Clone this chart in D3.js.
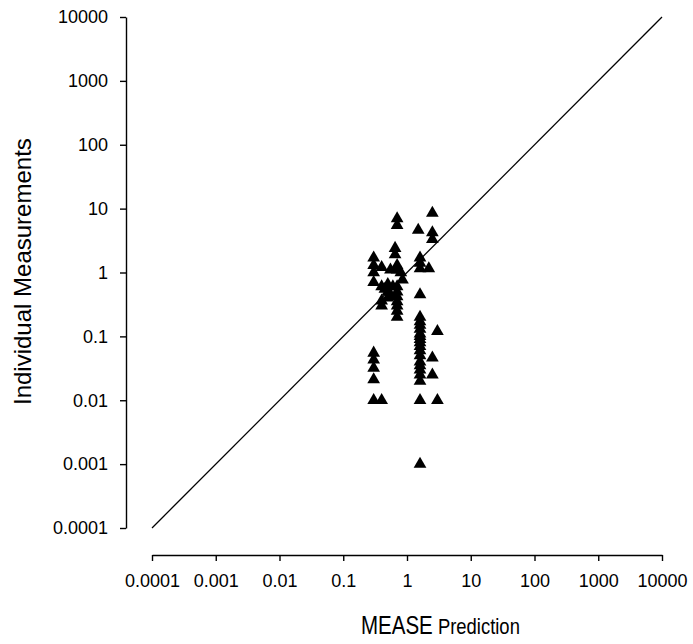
<!DOCTYPE html>
<html>
<head>
<meta charset="utf-8">
<script src="https://cdn.jsdelivr.net/npm/d3@7"></script>
<style>
  html, body { margin: 0; padding: 0; background: #fff; }
  svg text { font-family: "Liberation Sans", Arial, sans-serif; fill: #000; }
</style>
</head>
<body>
<svg id="chart" width="693" height="644"></svg>
<script>
// Predicted (MEASE) vs measured values, both on log scales
const predicted = [
  0.3, 0.3, 0.3, 0.3, 0.3, 0.3, 0.3, 0.3, 0.3,
  0.4, 0.4, 0.4, 0.4, 0.4,
  0.45, 0.5, 0.5, 0.55, 0.55, 0.6, 0.5,
  0.7, 0.7, 0.65, 0.65, 0.7, 0.7, 0.7, 0.7, 0.7, 0.7, 0.7, 0.7, 0.7,
  0.85, 0.8,
  1.5, 1.6, 1.6, 1.6, 1.6, 1.6, 1.6, 1.6, 1.6, 1.6, 1.6, 1.6, 1.6, 1.6, 1.6, 1.6, 1.6, 1.6, 1.6, 1.6, 1.6, 1.6, 1.6,
  2.2,
  2.5, 2.5, 2.5, 2.5, 2.5,
  3, 3
];
const measured = [
  1.7, 1.3, 1.0, 0.7, 0.055, 0.043, 0.032, 0.021, 0.01,
  0.01, 0.3, 0.36, 0.6, 1.2,
  0.55, 0.65, 0.5, 0.45, 1.1, 0.6, 0.4,
  7, 5.5, 2.4, 1.9, 1.3, 1.1, 0.6, 0.5, 0.42, 0.35, 0.3, 0.25, 0.2,
  0.77, 1.0,
  4.6, 1.7, 1.4, 1.15, 0.45, 0.2, 0.17, 0.15, 0.13, 0.11, 0.1, 0.09, 0.08, 0.07, 0.06, 0.05, 0.04, 0.035, 0.03, 0.025, 0.02, 0.01, 0.001,
  1.15,
  8.5, 4.2, 3.3, 0.046, 0.025,
  0.12, 0.01
];
const tickValues = [0.0001, 0.001, 0.01, 0.1, 1, 10, 100, 1000, 10000];
const tickLabels = ["0.0001", "0.001", "0.01", "0.1", "1", "10", "100", "1000", "10000"];
const domain = [0.0001, 10000];

const svg = d3.select("#chart");

const x = d3.scaleLog().domain(domain).range([152, 662]);
const y = d3.scaleLog().domain(domain).range([528, 17]);
const fmt = v => tickLabels[tickValues.indexOf(v)];

// y axis (offset to the left of the plot area)
const yAxis = svg.append("g")
  .attr("transform", "translate(126,0)")
  .call(d3.axisLeft(y).tickValues(tickValues).tickFormat(fmt).tickSize(6).tickPadding(12).tickSizeOuter(0));

// x axis (offset below the plot area)
const xAxis = svg.append("g")
  .attr("transform", "translate(0,555)")
  .call(d3.axisBottom(x).tickValues(tickValues).tickFormat(fmt).tickSize(6).tickPadding(13).tickSizeOuter(0));

[yAxis, xAxis].forEach(g => {
  g.select(".domain").attr("stroke", "#000").attr("stroke-width", 1.4);
  g.selectAll(".tick line").attr("stroke", "#000").attr("stroke-width", 1.4);
  g.selectAll(".tick text").attr("font-size", 18).attr("font-family", "Liberation Sans, Arial, sans-serif").attr("fill", "#000");
});

// 1:1 reference line
svg.append("line")
  .attr("x1", x(domain[0])).attr("y1", y(domain[0]))
  .attr("x2", x(domain[1])).attr("y2", y(domain[1]))
  .attr("stroke", "#000").attr("stroke-width", 1.3);

// data markers
const tri = d3.symbol().type(d3.symbolTriangle).size(70);
svg.append("g").selectAll("path")
  .data(d3.range(predicted.length))
  .join("path")
  .attr("d", tri)
  .attr("transform", i => `translate(${x(predicted[i])},${y(measured[i])})`)
  .attr("fill", "#000");

// axis titles
svg.append("text")
  .attr("transform", "translate(31,405) rotate(-90)")
  .attr("font-size", 24)
  .text("Individual Measurements");

const xt = svg.append("text")
  .attr("transform", "translate(361,634) scale(0.82,1)");
xt.append("tspan").attr("font-size", 25).text("MEASE");
xt.append("tspan").attr("font-size", 22.5).text(" Prediction");
</script>
</body>
</html>
